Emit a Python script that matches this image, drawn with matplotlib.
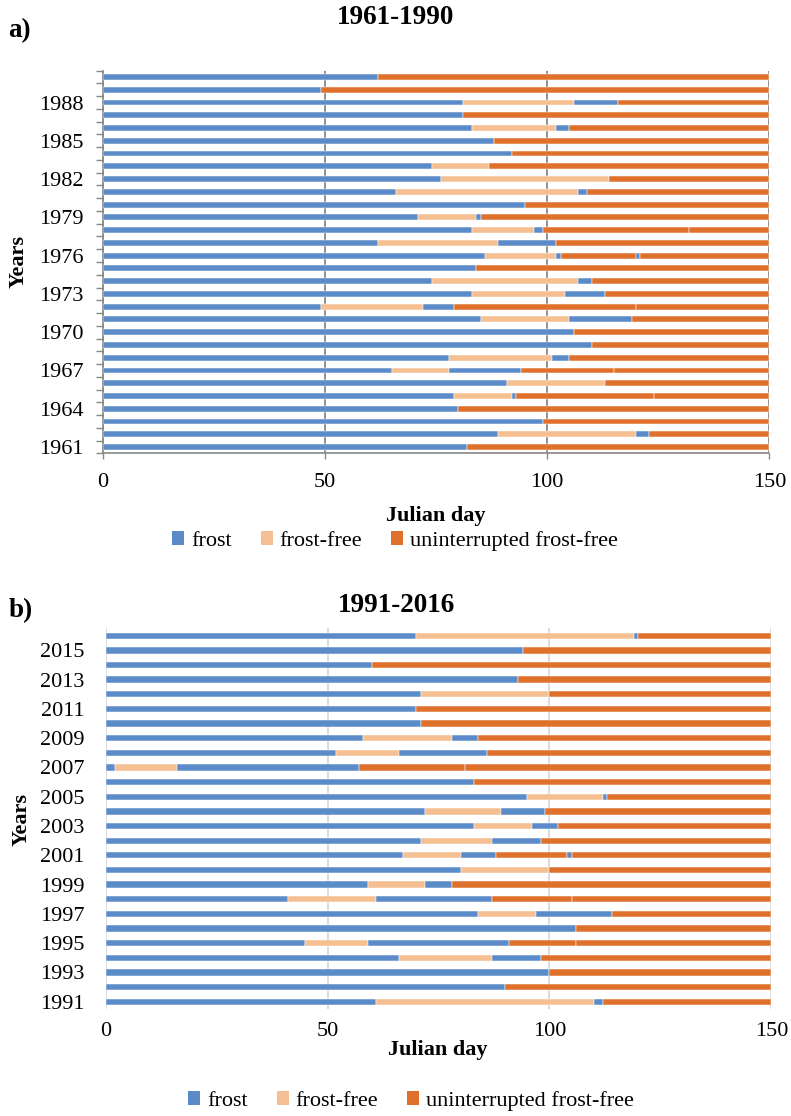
import matplotlib
matplotlib.use("Agg")
import matplotlib.pyplot as plt
from matplotlib.patches import Patch

plt.rcParams['font.family'] = ['Liberation Serif', 'DejaVu Serif']

# ---------------- data ----------------
# segment kinds: F = frost, N = frost-free, U = uninterrupted frost-free
# each year: list of (kind, end julian day)
years_a = list(range(1961, 1991))
segments_a = [
    [('F', 82), ('U', 150)],                                              # 1961
    [('F', 89), ('N', 120), ('F', 123), ('U', 150)],                       # 1962
    [('F', 99), ('U', 150)],                                              # 1963
    [('F', 80), ('U', 150)],                                              # 1964
    [('F', 79), ('N', 92), ('F', 93), ('U', 124), ('U', 150)],             # 1965
    [('F', 91), ('N', 113), ('U', 150)],                                  # 1966
    [('F', 65), ('N', 78), ('F', 94), ('U', 115), ('U', 150)],             # 1967
    [('F', 78), ('N', 101), ('F', 105), ('U', 150)],                       # 1968
    [('F', 110), ('U', 150)],                                             # 1969
    [('F', 106), ('U', 150)],                                             # 1970
    [('F', 85), ('N', 105), ('F', 119), ('U', 150)],                       # 1971
    [('F', 49), ('N', 72), ('F', 79), ('U', 120), ('U', 150)],             # 1972
    [('F', 83), ('N', 104), ('F', 113), ('U', 150)],                       # 1973
    [('F', 74), ('N', 107), ('F', 110), ('U', 150)],                       # 1974
    [('F', 84), ('U', 150)],                                              # 1975
    [('F', 86), ('N', 102), ('F', 103), ('U', 120), ('F', 121), ('U', 150)],  # 1976
    [('F', 62), ('N', 89), ('F', 102), ('U', 150)],                        # 1977
    [('F', 83), ('N', 97), ('F', 99), ('U', 132), ('U', 150)],             # 1978
    [('F', 71), ('N', 84), ('F', 85), ('U', 150)],                         # 1979
    [('F', 95), ('U', 150)],                                              # 1980
    [('F', 66), ('N', 107), ('F', 109), ('U', 150)],                       # 1981
    [('F', 76), ('N', 114), ('U', 150)],                                  # 1982
    [('F', 74), ('N', 87), ('U', 150)],                                   # 1983
    [('F', 92), ('U', 150)],                                              # 1984
    [('F', 88), ('U', 150)],                                              # 1985
    [('F', 83), ('N', 102), ('F', 105), ('U', 150)],                       # 1986
    [('F', 81), ('U', 150)],                                              # 1987
    [('F', 81), ('N', 106), ('F', 116), ('U', 150)],                       # 1988
    [('F', 49), ('U', 150)],                                              # 1989
    [('F', 62), ('U', 150)],                                              # 1990
]

years_b = list(range(1991, 2017))
segments_b = [
    [('F', 61), ('N', 110), ('F', 112), ('U', 150)],                       # 1991
    [('F', 90), ('U', 150)],                                              # 1992
    [('F', 100), ('U', 150)],                                             # 1993
    [('F', 66), ('N', 87), ('F', 98), ('U', 150)],                         # 1994
    [('F', 45), ('N', 59), ('F', 91), ('U', 106), ('U', 150)],             # 1995
    [('F', 106), ('U', 150)],                                             # 1996
    [('F', 84), ('N', 97), ('F', 114), ('U', 150)],                        # 1997
    [('F', 41), ('N', 61), ('F', 87), ('U', 105), ('U', 150)],             # 1998
    [('F', 59), ('N', 72), ('F', 78), ('U', 150)],                         # 1999
    [('F', 80), ('N', 100), ('U', 150)],                                  # 2000
    [('F', 67), ('N', 80), ('F', 88), ('U', 104), ('F', 105), ('U', 150)],  # 2001
    [('F', 71), ('N', 87), ('F', 98), ('U', 150)],                         # 2002
    [('F', 83), ('N', 96), ('F', 102), ('U', 150)],                        # 2003
    [('F', 72), ('N', 89), ('F', 99), ('U', 150)],                         # 2004
    [('F', 95), ('N', 112), ('F', 113), ('U', 150)],                       # 2005
    [('F', 83), ('U', 150)],                                              # 2006
    [('F', 2), ('N', 16), ('F', 57), ('U', 81), ('U', 150)],               # 2007
    [('F', 52), ('N', 66), ('F', 86), ('U', 150)],                         # 2008
    [('F', 58), ('N', 78), ('F', 84), ('U', 150)],                         # 2009
    [('F', 71), ('U', 150)],                                              # 2010
    [('F', 70), ('U', 150)],                                              # 2011
    [('F', 71), ('N', 100), ('U', 150)],                                  # 2012
    [('F', 93), ('U', 150)],                                              # 2013
    [('F', 60), ('U', 150)],                                              # 2014
    [('F', 94), ('U', 150)],                                              # 2015
    [('F', 70), ('N', 119), ('F', 120), ('U', 150)],                       # 2016
]

labels_a = [1961, 1964, 1967, 1970, 1973, 1976, 1979, 1982, 1985, 1988]
labels_b = [1991, 1993, 1995, 1997, 1999, 2001, 2003, 2005, 2007, 2009, 2011, 2013, 2015]
xticks = [0, 50, 100, 150]
legend_names = ['frost', 'frost-free', 'uninterrupted frost-free']

colors = {'F': '#5b8bc8', 'N': '#f5bf91', 'U': '#e0712d'}

# ---------------- figure ----------------
W, H = 791, 1116
fig = plt.figure(figsize=(W / 100, H / 100), dpi=100)


def ax_px(left, top, right, bottom):
    return fig.add_axes([left / W, 1 - bottom / H, (right - left) / W, (bottom - top) / H])


def draw(ax, years, segments, height):
    for i, segs in enumerate(segments):
        prev = 0
        for kind, end in segs:
            ax.barh(i, end - prev, left=prev, height=height, color=colors[kind],
                    edgecolor='white', linewidth=0.35, zorder=3)
            prev = end
    ax.set_xlim(0, 150)
    ax.set_ylim(-0.5, len(years) - 0.5)
    ax.set_xticks(xticks)
    ax.set_xticklabels([str(t) for t in xticks], fontsize=16)


# ----- panel a -----
axa = ax_px(103, 70.6, 769.3, 453.4)
draw(axa, years_a, segments_a, 0.46)
axa.set_yticks([years_a.index(y) for y in labels_a])
axa.set_yticklabels([str(y) for y in labels_a], fontsize=16)
axa.set_yticks([i - 0.5 for i in range(len(years_a) + 1)], minor=True)
axa.tick_params(axis='y', which='major', length=0, pad=14)
axa.tick_params(axis='y', which='minor', length=5, color='#888888', width=1)
axa.tick_params(axis='x', length=4, color='#888888', width=1, pad=10)
for s in ['top', 'right']:
    axa.spines[s].set_visible(False)
for s in ['left', 'bottom']:
    axa.spines[s].set_color('#888888')
    axa.spines[s].set_linewidth(1.2)
axa.grid(axis='x', color='#888888', linewidth=1.3, zorder=1)
axa.set_axisbelow(True)

# ----- panel b -----
axb = ax_px(105.7, 628.4, 771.3, 1009.0)
draw(axb, years_b, segments_b, 0.43)
axb.set_yticks([years_b.index(y) for y in labels_b])
axb.set_yticklabels([str(y) for y in labels_b], fontsize=16)
axb.tick_params(axis='y', length=0, pad=15)
axb.tick_params(axis='x', length=0, pad=9)
for s in ['top', 'right', 'bottom', 'left']:
    axb.spines[s].set_visible(False)
axb.grid(axis='x', color='#d9d9d9', linewidth=1.3, zorder=1)
axb.set_axisbelow(True)


def txt(x, y, s, **kw):
    fig.text(x / W, 1 - y / H, s, **kw)


# titles and labels
txt(396, 18, '1961-1990', fontsize=19.5, fontweight='bold', ha='center', va='center')
txt(8, 31, 'a)', fontsize=19.5, fontweight='bold', ha='left', va='center')
txt(396, 605, '1991-2016', fontsize=19.5, fontweight='bold', ha='center', va='center')
txt(9, 611, 'b)', fontsize=19.5, fontweight='bold', ha='left', va='center')

txt(436, 516, 'Julian day', fontsize=16, fontweight='bold', ha='center', va='center')
txt(438, 1050, 'Julian day', fontsize=16, fontweight='bold', ha='center', va='center')
txt(19, 262, 'Years', fontsize=16, fontweight='bold', rotation=90, ha='center', va='center')
txt(22, 820, 'Years', fontsize=16, fontweight='bold', rotation=90, ha='center', va='center')

handles = [Patch(facecolor=colors[k], edgecolor='none') for k in ['F', 'N', 'U']]
for cx, cy in [(395, 541), (411, 1101)]:
    fig.legend(handles, legend_names, loc='center', bbox_to_anchor=(cx / W, 1 - cy / H),
               ncol=3, frameon=False, fontsize=16, handlelength=0.55, handleheight=0.55,
               handletextpad=0.3, columnspacing=1.3, borderpad=0, borderaxespad=0)

fig.savefig('out.png', dpi=100)
